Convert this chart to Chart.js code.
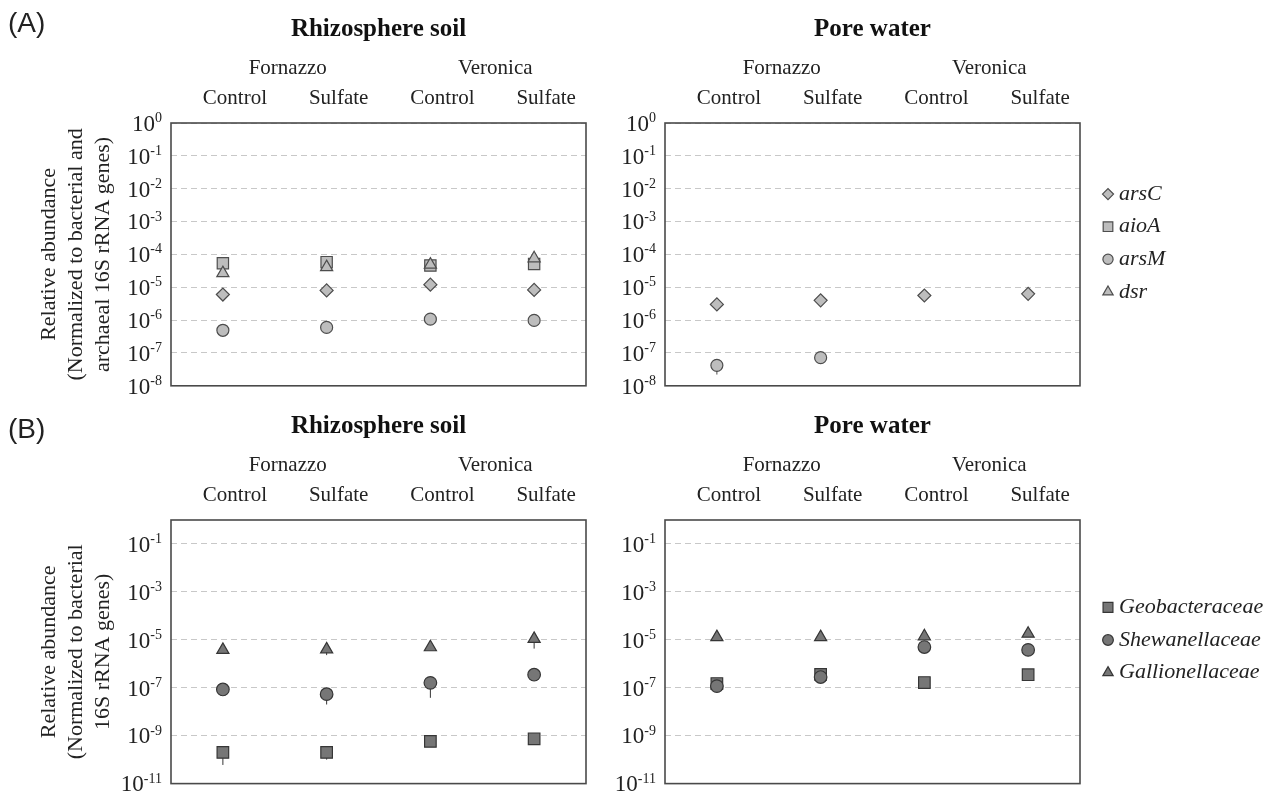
<!DOCTYPE html>
<html>
<head>
<meta charset="utf-8">
<script src="https://cdn.jsdelivr.net/npm/chart.js@4.4.1/dist/chart.umd.min.js"></script>
<style>
  body { margin: 0; background: #fff; }
  #fig { position: relative; width: 1263px; height: 793px; overflow: hidden; background: #fff; }
  canvas { position: absolute; }
  .tag { position: absolute; font-family: 'Liberation Sans', Arial, sans-serif; font-size: 28px; line-height: 1; color: #222; }
</style>
</head>
<body>
<div id="fig">
  <canvas id="aSoil" width="600" height="395" style="left:0;top:0"></canvas>
  <canvas id="aWater" width="663" height="395" style="left:600px;top:0"></canvas>
  <canvas id="bSoil" width="600" height="396" style="left:0;top:397px"></canvas>
  <canvas id="bWater" width="663" height="396" style="left:600px;top:397px"></canvas>
  <div class="tag" style="left:8px;top:9px">(A)</div>
  <div class="tag" style="left:8px;top:415px">(B)</div>
</div>
<script>
const categories = ['Control', 'Sulfate', 'Control', 'Sulfate'];
const sites = ['Fornazzo', 'Veronica'];

// (A) arsenic / sulfur genes, normalized to bacterial + archaeal 16S rRNA genes
const soilArsC = [6.0e-6, 8.0e-6, 1.2e-5, 8.3e-6];
const soilAioA = [5.4e-5, 5.8e-5, 4.6e-5, 5.1e-5];
const soilArsM = [4.9e-7, 6.0e-7, 1.07e-6, 9.8e-7];
const soilArsMLow = [null, 4.5e-7, null, null];
const soilDsr = [2.7e-5, 4.1e-5, 4.9e-5, 7.6e-5];
const soilDsrLow = [null, null, 3.2e-5, null];

const waterArsC = [3.0e-6, 4.0e-6, 5.6e-6, 6.3e-6];
const waterAioA = [null, null, null, null];
const waterArsM = [4.2e-8, 7.2e-8, null, null];
const waterArsMLow = [2.2e-8, null, null, null];
const waterDsr = [null, null, null, null];

// (B) iron / arsenic related families, normalized to bacterial 16S rRNA genes
const soilGeo = [2.0e-10, 2.0e-10, 5.8e-10, 7.4e-10];
const soilGeoLow = [6.0e-11, 1.0e-10, null, null];
const soilShew = [8.5e-8, 5.4e-8, 1.6e-7, 3.5e-7];
const soilShewLow = [null, 2.0e-8, 3.8e-8, null];
const soilGall = [3.8e-6, 4.0e-6, 4.9e-6, 1.1e-5];
const soilGallLow = [null, 2.3e-6, null, 4.3e-6];

const waterGeo = [1.5e-7, 3.6e-7, 1.65e-7, 3.5e-7];
const waterShew = [1.17e-7, 2.8e-7, 5.0e-6, 3.8e-6];
const waterGall = [1.3e-5, 1.3e-5, 1.4e-5, 1.8e-5];

const expsA = [0, -1, -2, -3, -4, -5, -6, -7, -8];
const expsB = [-1, -3, -5, -7, -9, -11];

const serif = "'Liberation Serif', 'Times New Roman', serif";
const ink = '#222';

function marker(style, radius, fill, edge) {
  return {
    showLine: false,
    pointStyle: style,
    pointRadius: radius,
    pointHoverRadius: radius,
    pointBackgroundColor: fill,
    pointBorderColor: edge,
    pointBorderWidth: 1.2,
    borderColor: edge,
    backgroundColor: fill
  };
}
const lightA = (s, r) => marker(s, r, '#bdbdbd', '#4d4d4d');
const darkB = (s, r) => marker(s, r, '#767676', '#363636');

// whiskers below the markers
const errorBars = {
  id: 'errorBars',
  beforeDatasetsDraw(chart) {
    const { ctx, scales: { y } } = chart;
    chart.data.datasets.forEach((ds, i) => {
      if (!ds.errLow) return;
      chart.getDatasetMeta(i).data.forEach((pt, j) => {
        const low = ds.errLow[j];
        if (low == null || ds.data[j] == null) return;
        ctx.save();
        ctx.strokeStyle = ds.pointBorderColor;
        ctx.lineWidth = 1;
        ctx.beginPath();
        ctx.moveTo(pt.x, y.getPixelForValue(ds.data[j]));
        ctx.lineTo(pt.x, y.getPixelForValue(low));
        ctx.stroke();
        ctx.restore();
      });
    });
  }
};

// 10 with superscript exponent
const expTicks = {
  id: 'expTicks',
  afterDraw(chart, args, o) {
    const { ctx, chartArea } = chart;
    const y = chart.scales.y;
    ctx.save();
    ctx.fillStyle = ink;
    ctx.textAlign = 'left';
    ctx.textBaseline = 'alphabetic';
    y.ticks.forEach(t => {
      const py = y.getPixelForValue(t.value);
      const e = String(Math.round(Math.log10(t.value)));
      ctx.font = o.expSize + 'px ' + serif;
      const ew = ctx.measureText(e).width;
      ctx.font = o.baseSize + 'px ' + serif;
      const bw = ctx.measureText('10').width;
      const xr = chartArea.left - o.gap;
      ctx.fillText('10', xr - ew - bw, py + o.baseSize * 0.34);
      ctx.font = o.expSize + 'px ' + serif;
      ctx.fillText(e, xr - ew, py - o.raise);
    });
    ctx.restore();
  }
};

const frame = {
  id: 'frame',
  afterDraw(chart) {
    const { ctx, chartArea: a } = chart;
    ctx.save();
    ctx.strokeStyle = '#4a4a4a';
    ctx.lineWidth = 1.6;
    ctx.strokeRect(a.left, a.top, a.width, a.height);
    ctx.restore();
  }
};

const sideLegend = {
  id: 'sideLegend',
  afterDraw(chart, args, o) {
    const { ctx, chartArea: a } = chart;
    const sets = chart.data.datasets;
    const first = a.top + o.center - (sets.length - 1) * o.rowGap / 2;
    sets.forEach((ds, i) => {
      const y = first + i * o.rowGap;
      const x = a.right + o.markerX;
      ctx.save();
      ctx.fillStyle = ds.pointBackgroundColor;
      ctx.strokeStyle = ds.pointBorderColor;
      ctx.lineWidth = 1.2;
      Chart.helpers.drawPoint(ctx, { pointStyle: ds.pointStyle, radius: ds.pointRadius * 0.85, rotation: 0, borderWidth: 1.2 }, x, y);
      ctx.fillStyle = ink;
      ctx.font = 'italic 22px ' + serif;
      ctx.textAlign = 'left';
      ctx.textBaseline = 'middle';
      ctx.fillText(ds.label, x + o.textX, y);
      ctx.restore();
    });
  }
};

function panel(id, opt) {
  const sets = opt.datasets.map((d, i) => Object.assign({ order: -i }, d));
  return new Chart(document.getElementById(id), {
    type: 'line',
    data: { labels: categories, datasets: sets },
    options: {
      responsive: false,
      animation: false,
      events: [],
      layout: { padding: { left: 0, right: opt.padRight, top: 0, bottom: 7 } },
      plugins: {
        legend: { display: false },
        tooltip: { enabled: false },
        title: {
          display: true,
          text: opt.title,
          fullSize: false,
          color: '#111',
          font: { family: serif, size: 25, weight: 'bold' },
          padding: { top: 15, bottom: 0 }
        },
        expTicks: { baseSize: 23, expSize: 14, raise: 1, gap: 9 },
        sideLegend: opt.legend ? { center: 120, rowGap: 32.6, markerX: 28, textX: 11 } : false
      },
      scales: {
        x: {
          type: 'category',
          position: 'top',
          offset: true,
          weight: 0,
          grid: { display: false, drawTicks: false },
          border: { display: false },
          ticks: { color: ink, font: { family: serif, size: 21 }, padding: 12, labelOffset: 12, maxRotation: 0, autoSkip: false },
          afterFit: s => { s.height = 38; }
        },
        x2: {
          type: 'category',
          labels: sites,
          position: 'top',
          offset: true,
          weight: 1,
          grid: { display: false, drawTicks: false },
          border: { display: false },
          ticks: { color: ink, font: { family: serif, size: 21 }, padding: 4, labelOffset: 13, maxRotation: 0, autoSkip: false },
          afterFit: s => { s.height = 40; }
        },
        y: {
          type: 'logarithmic',
          min: Math.pow(10, opt.exps[opt.exps.length - 1]),
          max: 1,
          afterBuildTicks: s => { s.ticks = opt.exps.map(e => ({ value: Math.pow(10, e) })); },
          ticks: { display: false },
          grid: { color: '#c8c8c8', lineWidth: 1, drawTicks: false },
          border: { display: false, dash: [6, 4] },
          title: opt.yTitle ? {
            display: true,
            text: opt.yTitle,
            color: ink,
            font: { family: serif, size: 22, lineHeight: 1.22 },
            padding: { top: 36, bottom: 0 }
          } : { display: false },
          afterFit: s => { s.width = opt.yWidth; }
        }
      }
    },
    plugins: [errorBars, expTicks, frame, sideLegend]
  });
}

panel('aSoil', {
  title: 'Rhizosphere soil', exps: expsA, yWidth: 171, padRight: 14,
  yTitle: ['Relative abundance', '(Normalized to bacterial and', 'archaeal 16S rRNA genes)'],
  datasets: [
    Object.assign({ label: 'arsC', data: soilArsC }, lightA('rectRot', 6.5)),
    Object.assign({ label: 'aioA', data: soilAioA }, lightA('rect', 8)),
    Object.assign({ label: 'arsM', data: soilArsM, errLow: soilArsMLow }, lightA('circle', 6)),
    Object.assign({ label: 'dsr', data: soilDsr, errLow: soilDsrLow }, lightA('triangle', 7))
  ]
});

panel('aWater', {
  title: 'Pore water', exps: expsA, yWidth: 65, padRight: 183, legend: true,
  datasets: [
    Object.assign({ label: 'arsC', data: waterArsC }, lightA('rectRot', 6.5)),
    Object.assign({ label: 'aioA', data: waterAioA }, lightA('rect', 8)),
    Object.assign({ label: 'arsM', data: waterArsM, errLow: waterArsMLow }, lightA('circle', 6)),
    Object.assign({ label: 'dsr', data: waterDsr }, lightA('triangle', 7))
  ]
});

panel('bSoil', {
  title: 'Rhizosphere soil', exps: expsB, yWidth: 171, padRight: 14,
  yTitle: ['Relative abundance', '(Normalized to bacterial', '16S rRNA genes)'],
  datasets: [
    Object.assign({ label: 'Geobacteraceae', data: soilGeo, errLow: soilGeoLow }, darkB('rect', 8.2)),
    Object.assign({ label: 'Shewanellaceae', data: soilShew, errLow: soilShewLow }, darkB('circle', 6.3)),
    Object.assign({ label: 'Gallionellaceae', data: soilGall, errLow: soilGallLow }, darkB('triangle', 7))
  ]
});

panel('bWater', {
  title: 'Pore water', exps: expsB, yWidth: 65, padRight: 183, legend: true,
  datasets: [
    Object.assign({ label: 'Geobacteraceae', data: waterGeo }, darkB('rect', 8.2)),
    Object.assign({ label: 'Shewanellaceae', data: waterShew }, darkB('circle', 6.3)),
    Object.assign({ label: 'Gallionellaceae', data: waterGall }, darkB('triangle', 7))
  ]
});
</script>
</body>
</html>
